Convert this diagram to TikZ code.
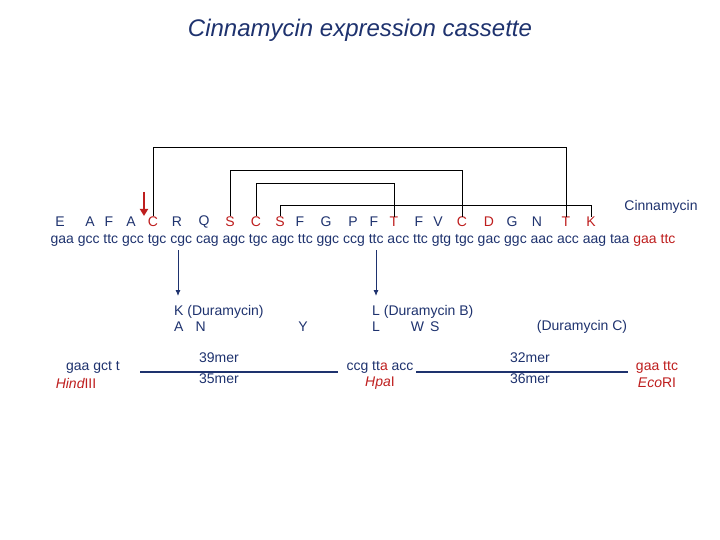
\documentclass[tikz,border=0pt]{standalone}
\usepackage{fontspec}
\setmainfont{Liberation Sans}
\usetikzlibrary{arrows.meta}
\definecolor{nv}{RGB}{30,50,110}
\definecolor{rd}{RGB}{190,30,30}
\begin{document}
\begin{tikzpicture}[x=1pt,y=-1pt,
  t/.style={font=\fontsize{14}{16}\selectfont,text=nv,inner sep=0pt},
  r/.style={t,text=rd},
  ri/.style={r,font=\itshape\fontsize{14}{16}\selectfont},
  br/.style={draw=black,line width=0.9pt},
  bl/.style={draw=nv,line width=2pt},
  ar/.style={draw=nv,line width=0.9pt,-{Latex[length=6pt,width=5pt]}}]
\useasboundingbox (0,0) rectangle (720,540);
\node[t,font=\itshape\fontsize{24}{26}\selectfont] (title) at (360,30) {Cinnamycin expression cassette};
\foreach \x/\l/\s in {60/E/t,90/A/t,109/F/t,131/A/t,153/C/r,177/R/t,204/Q/t,230/S/r,256/C/r,280/S/r,300/F/t,326/G/t,353/P/t,374/F/t,394/T/r,419/F/t,438/V/t,462/C/r,489/D/r,512/G/t,537/N/t,566/T/r,591/K/r}
  \node[\s] (L\l\x) at (\x,222) {\l};
\node[t] (cin) at (661,207) {Cinnamycin};
\node[t] (seq) at (363,240) {gaa gcc ttc gcc tgc cgc cag agc tgc agc ttc ggc ccg ttc acc ttc gtg tgc gac ggc aac acc aag taa \textcolor{rd}{gaa ttc}};
\draw[br] (LC153.north) ++(0,-1) |- (566,147) -- (LT566.north);
\draw[br] (LS230.north) ++(0,-1) |- (462,170) -- (LC462.north);
\draw[br] (LC256.north) ++(0,-1) |- (394,183) -- (LT394.north);
\draw[br] (LS280.north) ++(0,-1) |- (591,205) -- (LK591.north);
\coordinate (ra) at (144,192);
\coordinate (rb) at (144,216);
\draw[draw=rd,line width=2.6pt,-{Triangle[length=7pt,width=8pt]}] (ra) -- (rb);
\coordinate (a1) at (178,250); \coordinate (a2) at (178,296);
\coordinate (b1) at (376,250); \coordinate (b2) at (376,296);
\draw[ar] (a1) -- (a2);
\draw[ar] (b1) -- (b2);
\node[t,anchor=west] (k) at (174,312) {K (Duramycin)};
\node[t,anchor=west] (an) at (174,327) {A\hspace{12pt}N};
\node[t] (y) at (303,327) {Y};
\node[t,anchor=west] (l) at (372,312) {L (Duramycin B)};
\node[t,anchor=west] (lws) at (372,327) {L\hspace{31pt}W\hspace{6pt}S};
\node[t] (dc) at (582,327) {(Duramycin C)};
\node[t] (h1) at (93,367) {gaa gct t};
\node[ri] (h2) at (76,383) {Hind\upshape III};
\node[t] (p1) at (380,367) {ccg tt\textcolor{rd}{a} acc};
\node[ri] (p2) at (380,383) {Hpa\upshape I};
\node[r] (e1) at (657,367) {gaa ttc};
\node[ri] (e2) at (657,383) {Eco\upshape RI};
\coordinate (l1a) at (140,372); \coordinate (l1b) at (338,372);
\coordinate (l2a) at (416,372); \coordinate (l2b) at (628,372);
\draw[bl] (l1a) -- (l1b);
\draw[bl] (l2a) -- (l2b);
\node[t] (m1) at (219,358) {39mer};
\node[t] (m2) at (219,379) {35mer};
\node[t] (m3) at (530,358) {32mer};
\node[t] (m4) at (530,379) {36mer};
\end{tikzpicture}
\end{document}
